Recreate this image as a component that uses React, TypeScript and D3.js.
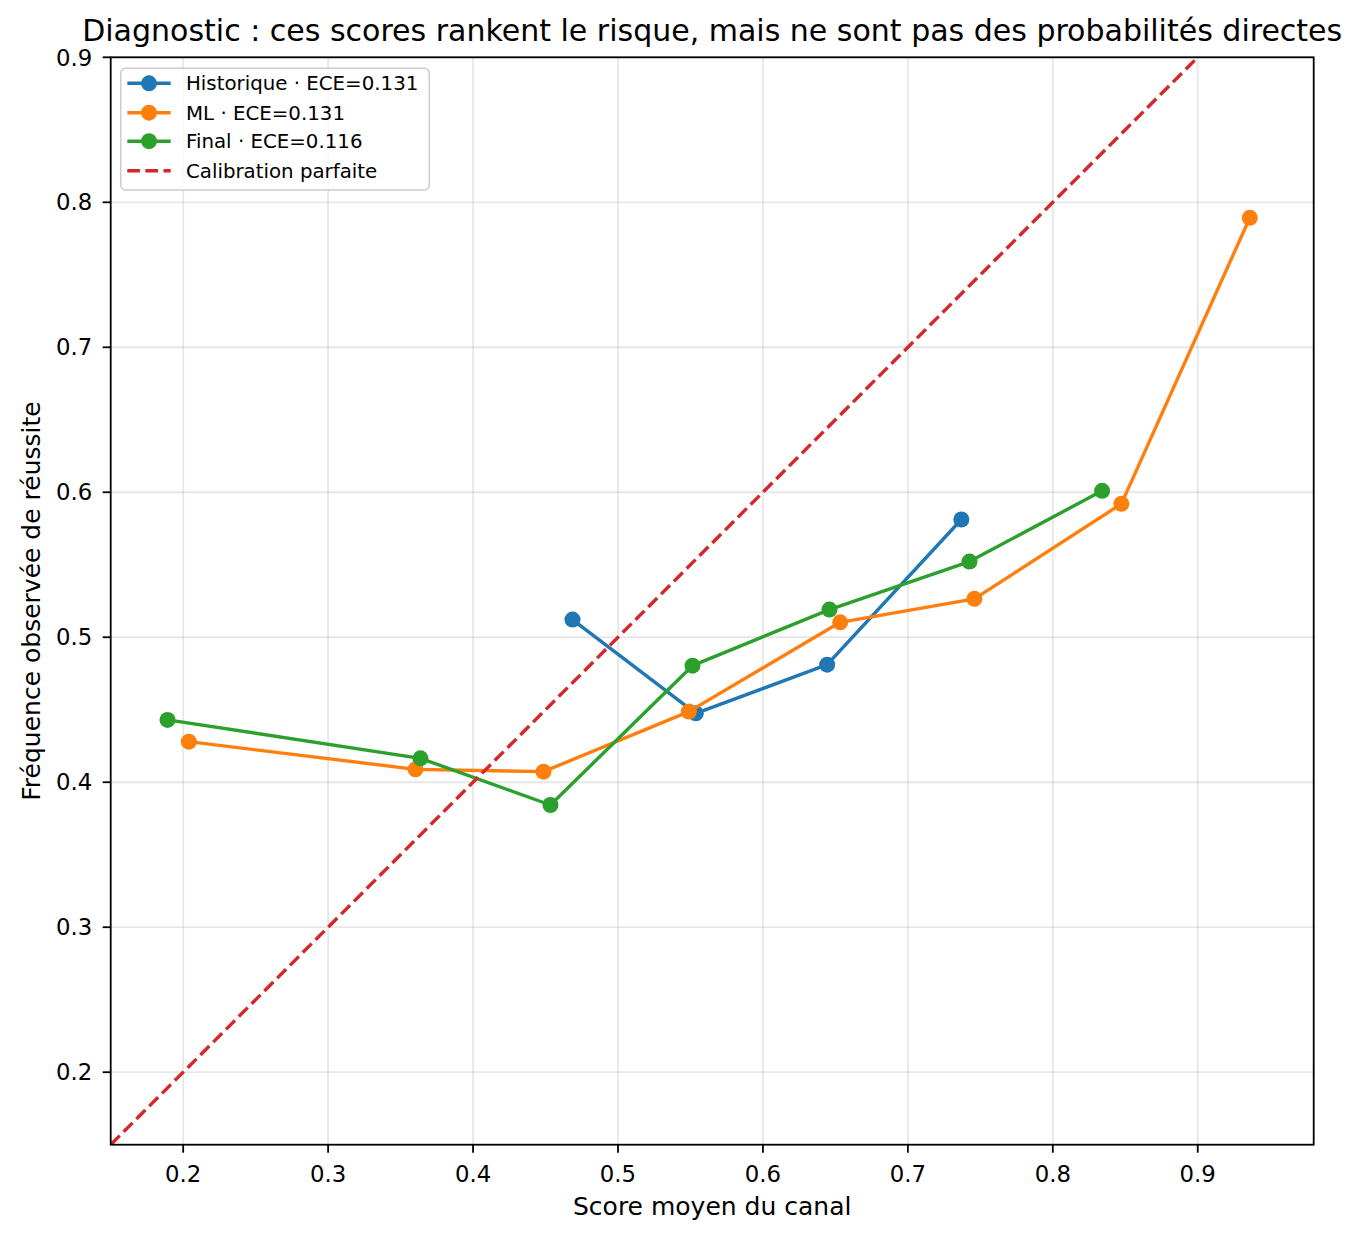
import React from "react";
import * as d3 from "d3";

const histX = [0.4686, 0.5537, 0.6443, 0.7369];
const histY = [0.5122, 0.4475, 0.4811, 0.5812];
const mlX = [0.2039, 0.3603, 0.4486, 0.5489, 0.6533, 0.7459, 0.8473, 0.9359];
const mlY = [0.428, 0.4089, 0.4073, 0.4487, 0.5103, 0.5265, 0.592, 0.7893];
const finX = [0.1892, 0.3637, 0.4534, 0.5514, 0.6459, 0.7425, 0.834];
const finY = [0.443, 0.4165, 0.3843, 0.4804, 0.5191, 0.5522, 0.601];
const diagX = [0, 1];
const diagY = [0, 1];
const xTicks = [0.2, 0.3, 0.4, 0.5, 0.6, 0.7, 0.8, 0.9];
const yTicks = [0.2, 0.3, 0.4, 0.5, 0.6, 0.7, 0.8, 0.9];
const seriesNames = ["Historique · ECE=0.131", "ML · ECE=0.131", "Final · ECE=0.116"];
const diagName = "Calibration parfaite";
const title = "Diagnostic : ces scores rankent le risque, mais ne sont pas des probabilités directes";
const xLabel = "Score moyen du canal";
const yLabel = "Fréquence observée de réussite";
const colors = ["#1f77b4", "#ff7f0e", "#2ca02c"];
const diagColor = "#d62728";

const W = 1361;
const H = 1238;
const L = 110.7;
const R = 1313.7;
const T = 57.3;
const B = 1144.7;
const FONT = "DejaVu Sans";

export default function App() {
  const x = d3.scaleLinear().domain([0.15, 0.98]).range([L, R]);
  const y = d3.scaleLinear().domain([0.15, 0.9]).range([B, T]);
  const line = d3
    .line<[number, number]>()
    .x((d) => x(d[0]))
    .y((d) => y(d[1]));
  const series = [
    { xs: histX, ys: histY },
    { xs: mlX, ys: mlY },
    { xs: finX, ys: finY },
  ];
  const diagPts: [number, number][] = diagX.map((v, i) => [v, diagY[i]]);
  const lw = 3.4;
  const mr = 8;
  const legRows = [83.3, 112.7, 141.2, 170.7];
  return (
    <div style={{ position: "absolute", left: 0, top: 0 }}>
      <svg width={W} height={H} xmlns="http://www.w3.org/2000/svg" style={{ display: "block", fontFamily: FONT }}>
        <defs>
          <clipPath id="plotclip">
            <rect x={L} y={T} width={R - L} height={B - T} />
          </clipPath>
        </defs>
        <rect x={0} y={0} width={W} height={H} fill="#fff" />
        {/* grid */}
        <g stroke="#b0b0b0" strokeOpacity={0.3} strokeWidth={1.8}>
          {xTicks.map((t) => (
            <line key={"gx" + t} x1={x(t)} x2={x(t)} y1={T} y2={B} />
          ))}
          {yTicks.map((t) => (
            <line key={"gy" + t} x1={L} x2={R} y1={y(t)} y2={y(t)} />
          ))}
        </g>
        <g clipPath="url(#plotclip)">
          {series.map((s, i) => {
            const pts: [number, number][] = s.xs.map((v, j) => [v, s.ys[j]]);
            return (
              <g key={i}>
                <path d={line(pts) || ""} fill="none" stroke={colors[i]} strokeWidth={lw} strokeLinejoin="round" strokeLinecap="square" />
                {pts.map((p, j) => (
                  <circle key={j} cx={x(p[0])} cy={y(p[1])} r={mr} fill={colors[i]} />
                ))}
              </g>
            );
          })}
          <path d={line(diagPts) || ""} fill="none" stroke={diagColor} strokeWidth={lw} strokeDasharray="12.6 5.5" />
        </g>
        {/* spines */}
        <rect x={L} y={T} width={R - L} height={B - T} fill="none" stroke="#000" strokeWidth={1.8} />
        {/* x ticks */}
        <g>
          {xTicks.map((t) => (
            <g key={"xt" + t}>
              <line x1={x(t)} x2={x(t)} y1={B} y2={B + 8} stroke="#000" strokeWidth={1.8} />
              <text x={x(t)} y={1182} textAnchor="middle" fontSize={22.8} fill="#000">
                {t.toFixed(1)}
              </text>
            </g>
          ))}
        </g>
        {/* y ticks */}
        <g>
          {yTicks.map((t) => (
            <g key={"yt" + t}>
              <line x1={L - 8} x2={L} y1={y(t)} y2={y(t)} stroke="#000" strokeWidth={1.8} />
              <text x={L - 18.5} y={y(t)} dy="0.36em" textAnchor="end" fontSize={22.8} fill="#000">
                {t.toFixed(1)}
              </text>
            </g>
          ))}
        </g>
        <text x={(L + R) / 2} y={1214.5} textAnchor="middle" fontSize={25} fill="#000">
          {xLabel}
        </text>
        <text transform={`translate(39.5, ${(T + B) / 2}) rotate(-90)`} textAnchor="middle" fontSize={25} fill="#000">
          {yLabel}
        </text>
        <text x={(L + R) / 2} y={41} textAnchor="middle" fontSize={30} fill="#000">
          {title}
        </text>
        {/* legend */}
        <g>
          <rect x={120.7} y={68.3} width={308.6} height={121.7} rx={5} ry={5} fill="#fff" fillOpacity={0.8} stroke="#cccccc" strokeWidth={1.5} />
          {seriesNames.map((n, i) => (
            <g key={n}>
              <line x1={127.3} x2={170.7} y1={legRows[i]} y2={legRows[i]} stroke={colors[i]} strokeWidth={lw} />
              <circle cx={149} cy={legRows[i]} r={mr} fill={colors[i]} />
              <text x={186} y={legRows[i]} dy="0.36em" fontSize={19.8} fill="#000">
                {n}
              </text>
            </g>
          ))}
          <line x1={127.3} x2={170.7} y1={legRows[3]} y2={legRows[3]} stroke={diagColor} strokeWidth={lw} strokeDasharray="12.6 5.5" />
          <text x={186} y={legRows[3]} dy="0.36em" fontSize={19.8} fill="#000">
            {diagName}
          </text>
        </g>
      </svg>
    </div>
  );
}
